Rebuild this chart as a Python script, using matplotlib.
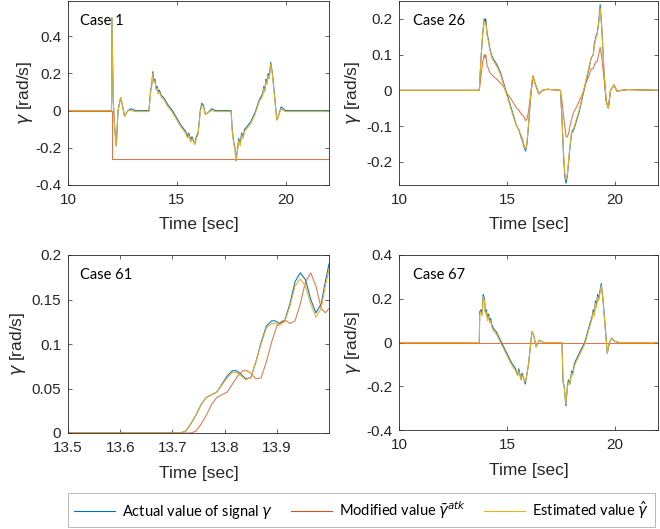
import numpy as np
import matplotlib
matplotlib.use("Agg")
import matplotlib.pyplot as plt

plt.rcParams['font.family'] = ['Liberation Sans', 'DejaVu Sans']
plt.rcParams['mathtext.fontset'] = 'dejavusans'

# ---------------- data ----------------
# Case 1
c1_t = [10, 12.0, 12.02, 12.08, 12.15, 12.22, 12.3, 12.42, 12.5, 12.6, 12.75, 12.9, 13.1,
        13.72, 13.8, 13.85, 13.9, 13.95, 14.0, 14.05, 14.1, 14.15, 14.2, 14.3, 14.4, 14.5,
        14.6, 14.8, 15.0, 15.2, 15.4, 15.5, 15.55, 15.65, 15.7, 15.83, 15.9, 15.98, 16.08,
        16.15, 16.22, 16.32, 16.45, 16.6, 16.8, 17.5, 17.55, 17.62, 17.68, 17.72, 17.78,
        17.85, 17.92, 17.98, 18.05, 18.12, 18.2, 18.4, 18.6, 18.8, 18.95, 19.0, 19.05, 19.1,
        19.15, 19.2, 19.25, 19.32, 19.4, 19.5, 19.6, 19.7, 19.8, 19.9, 20.0, 20.2, 22]
c1_actual = [0, 0, 0.5, 0.05, -0.1, -0.19, 0.0, 0.07, 0.03, -0.03, 0.0, 0.01, 0.0,
             0.0, 0.11, 0.14, 0.21, 0.16, 0.17, 0.12, 0.13, 0.10, 0.11, 0.08, 0.07, 0.05,
             0.03, 0.0, -0.04, -0.08, -0.11, -0.14, -0.12, -0.16, -0.14, -0.18, -0.14, -0.12, 0.0,
             0.04, 0.03, -0.02, -0.01, 0.01, 0.0, 0.0, -0.1, -0.17, -0.2, -0.27, -0.22,
             -0.15, -0.18, -0.12, -0.14, -0.1, -0.09, -0.06, -0.01, 0.06, 0.09, 0.13, 0.11, 0.17,
             0.15, 0.2, 0.18, 0.26, 0.2, 0.08, -0.05, -0.02, 0.02, 0.01, 0.0, 0.0, 0]
c1_est = [0, 0, 0.5, 0.05, -0.1, -0.19, 0.0, 0.07, 0.03, -0.03, 0.0, 0.0, -0.005,
          -0.005, 0.1, 0.13, 0.2, 0.15, 0.16, 0.11, 0.12, 0.09, 0.10, 0.07, 0.06, 0.04,
          0.02, -0.01, -0.05, -0.09, -0.12, -0.15, -0.13, -0.17, -0.15, -0.18, -0.15, -0.13, -0.01,
          0.03, 0.02, -0.02, -0.01, 0.0, -0.005, -0.005, -0.11, -0.18, -0.21, -0.27, -0.23,
          -0.16, -0.19, -0.13, -0.15, -0.11, -0.1, -0.07, -0.02, 0.05, 0.08, 0.12, 0.1, 0.16,
          0.14, 0.19, 0.17, 0.25, 0.19, 0.07, -0.05, -0.02, 0.01, 0.0, -0.005, -0.005, -0.005]
c1_mod_t = [10, 12.0, 12.0, 22]
c1_mod = [0, 0, -0.26, -0.26]

# Case 26
c26_t = [10, 13.72, 13.8, 13.88, 13.95, 13.98, 14.02, 14.08, 14.15, 14.2, 14.28, 14.35, 14.45,
         14.55, 14.7, 14.85, 15.0, 15.15, 15.3, 15.45, 15.55, 15.65, 15.72, 15.8, 15.87, 15.93,
         16.0, 16.1, 16.2, 16.3, 16.48, 16.65, 16.85, 17.48, 17.55, 17.62, 17.68, 17.74, 17.8,
         17.86, 17.92, 18.0, 18.1, 18.2, 18.35, 18.5, 18.65, 18.8, 18.9, 19.0, 19.05, 19.12,
         19.18, 19.25, 19.32, 19.4, 19.5, 19.6, 19.7, 19.8, 19.96, 20.1, 20.3, 20.6, 22]
c26_actual = [0, 0, 0.09, 0.16, 0.2, 0.19, 0.2, 0.16, 0.14, 0.12, 0.1, 0.09, 0.08,
              0.07, 0.05, 0.02, -0.01, -0.04, -0.07, -0.1, -0.11, -0.13, -0.14, -0.16, -0.17, -0.15,
              -0.1, -0.02, 0.04, 0.02, -0.01, 0.0, 0.003, 0.0, -0.08, -0.18, -0.24, -0.26, -0.24,
              -0.2, -0.16, -0.12, -0.11, -0.09, -0.06, -0.02, 0.02, 0.06, 0.09, 0.1, 0.13, 0.15,
              0.16, 0.19, 0.24, 0.17, 0.05, -0.03, -0.05, 0.0, 0.015, -0.003, 0.0, 0.002, 0]
c26_est = [0, 0, 0.09, 0.16, 0.195, 0.185, 0.19, 0.155, 0.135, 0.115, 0.095, 0.085, 0.075,
           0.065, 0.045, 0.015, -0.015, -0.045, -0.075, -0.1, -0.11, -0.125, -0.135, -0.155, -0.165, -0.145,
           -0.095, -0.015, 0.04, 0.02, -0.01, 0.0, 0.003, 0.0, -0.075, -0.17, -0.23, -0.25, -0.235,
           -0.195, -0.155, -0.115, -0.105, -0.085, -0.055, -0.015, 0.025, 0.065, 0.09, 0.1, 0.125, 0.145,
           0.155, 0.185, 0.23, 0.17, 0.05, -0.03, -0.05, 0.0, 0.015, -0.003, 0.0, 0.002, 0]
c26_mod = [0, 0, 0.04, 0.08, 0.1, 0.09, 0.1, 0.07, 0.06, 0.05, 0.045, 0.04, 0.035,
           0.03, 0.02, 0.01, -0.01, -0.02, -0.035, -0.05, -0.055, -0.065, -0.07, -0.075, -0.085, -0.08,
           -0.06, -0.01, 0.04, 0.02, -0.01, 0.0, 0.003, 0.0, -0.03, -0.07, -0.1, -0.13, -0.13,
           -0.12, -0.1, -0.08, -0.06, -0.05, -0.03, -0.01, 0.02, 0.04, 0.06, 0.06, 0.07, 0.08,
           0.08, 0.1, 0.12, 0.09, 0.03, -0.03, -0.05, 0.0, 0.015, -0.003, 0.0, 0.002, 0]

# Case 61
c61_t = [13.5, 13.715, 13.725, 13.735, 13.745, 13.755, 13.765, 13.775, 13.785, 13.795, 13.805,
         13.815, 13.822, 13.83, 13.84, 13.85, 13.86, 13.87, 13.88, 13.89, 13.897, 13.905,
         13.915, 13.925, 13.935, 13.945, 13.955, 13.965, 13.975, 13.985, 13.993, 14.0]
c61_actual = [0, 0, 0.002, 0.01, 0.02, 0.032, 0.04, 0.043, 0.046, 0.055, 0.064,
              0.07, 0.07, 0.067, 0.061, 0.062, 0.08, 0.102, 0.12, 0.126, 0.126, 0.123,
              0.126, 0.145, 0.17, 0.18, 0.172, 0.15, 0.135, 0.145, 0.17, 0.19]
c61_est = [0, 0, 0.002, 0.01, 0.02, 0.032, 0.04, 0.043, 0.046, 0.054, 0.062,
           0.068, 0.068, 0.065, 0.06, 0.062, 0.08, 0.1, 0.118, 0.123, 0.123, 0.121,
           0.125, 0.142, 0.165, 0.173, 0.165, 0.145, 0.13, 0.14, 0.165, 0.183]
c61_mod_t = [13.5, 13.735, 13.745, 13.755, 13.765, 13.775, 13.785, 13.795, 13.805, 13.815,
             13.825, 13.835, 13.843, 13.85, 13.86, 13.87, 13.88, 13.89, 13.9, 13.91, 13.918,
             13.925, 13.935, 13.945, 13.955, 13.965, 13.975, 13.985, 13.993, 14.0]
c61_mod = [0, 0, 0.002, 0.01, 0.02, 0.032, 0.04, 0.043, 0.046, 0.055, 0.064,
           0.07, 0.07, 0.067, 0.061, 0.062, 0.08, 0.102, 0.12, 0.126, 0.126, 0.123,
           0.126, 0.145, 0.17, 0.18, 0.165, 0.14, 0.135, 0.14]

# Case 67
c67_t = [10, 13.72, 13.74, 13.8, 13.85, 13.9, 13.96, 14.0, 14.05, 14.1, 14.15, 14.2, 14.25,
         14.3, 14.4, 14.5, 14.6, 14.8, 15.0, 15.2, 15.4, 15.5, 15.55, 15.65, 15.7, 15.85,
         15.92, 16.0, 16.16, 16.25, 16.35, 16.5, 16.7, 16.9, 17.55, 17.6, 17.65, 17.73, 17.8,
         17.85, 17.92, 18.0, 18.05, 18.12, 18.2, 18.4, 18.6, 18.8, 18.95, 19.0, 19.05, 19.1,
         19.15, 19.2, 19.25, 19.37, 19.45, 19.55, 19.65, 19.75, 19.85, 20.0, 20.2, 20.5, 22]
c67_actual = [0, 0, 0.14, 0.15, 0.13, 0.22, 0.2, 0.14, 0.15, 0.11, 0.13, 0.1, 0.11,
              0.08, 0.06, 0.05, 0.03, -0.01, -0.05, -0.09, -0.12, -0.15, -0.12, -0.17, -0.14, -0.19,
              -0.15, -0.1, 0.05, 0.03, -0.02, 0.01, 0.0, 0.0, 0.0, -0.18, -0.2, -0.29, -0.2,
              -0.17, -0.19, -0.13, -0.14, -0.1, -0.08, -0.04, 0.0, 0.07, 0.12, 0.15, 0.13, 0.19,
              0.17, 0.22, 0.2, 0.27, 0.2, 0.08, -0.05, 0.0, 0.02, 0.005, 0.0, 0.0, 0]
c67_est = [0, 0, 0.13, 0.14, 0.12, 0.21, 0.19, 0.13, 0.14, 0.1, 0.12, 0.09, 0.1,
           0.07, 0.05, 0.04, 0.02, -0.02, -0.06, -0.1, -0.13, -0.15, -0.13, -0.17, -0.15, -0.18,
           -0.15, -0.1, 0.05, 0.03, -0.02, 0.01, 0.0, 0.0, 0.0, -0.17, -0.2, -0.28, -0.21,
           -0.18, -0.19, -0.14, -0.15, -0.11, -0.09, -0.05, -0.01, 0.06, 0.11, 0.14, 0.12, 0.18,
           0.16, 0.21, 0.19, 0.26, 0.19, 0.07, -0.05, 0.0, 0.02, 0.005, 0.0, 0.0, 0]
c67_mod_t = [10, 22]
c67_mod = [0, 0]

cases = [
    dict(name='Case 1', t=c1_t, actual=c1_actual, est=c1_est, mod_t=c1_mod_t, mod=c1_mod,
         xlim=(10, 22), ylim=(-0.4, 0.59), xticks=[10, 15, 20], yticks=[-0.4, -0.2, 0, 0.2, 0.4],
         yticklabels=['-0.4', '-0.2', '0', '0.2', '0.4']),
    dict(name='Case 26', t=c26_t, actual=c26_actual, est=c26_est, mod_t=c26_t, mod=c26_mod,
         xlim=(10, 22), ylim=(-0.265, 0.25), xticks=[10, 15, 20], yticks=[-0.2, -0.1, 0, 0.1, 0.2],
         yticklabels=['-0.2', '-0.1', '0', '0.1', '0.2']),
    dict(name='Case 61', t=c61_t, actual=c61_actual, est=c61_est, mod_t=c61_mod_t, mod=c61_mod,
         xlim=(13.5, 14.0), ylim=(0, 0.2), xticks=[13.5, 13.6, 13.7, 13.8, 13.9],
         yticks=[0, 0.05, 0.1, 0.15, 0.2], yticklabels=['0', '0.05', '0.1', '0.15', '0.2']),
    dict(name='Case 67', t=c67_t, actual=c67_actual, est=c67_est, mod_t=c67_mod_t, mod=c67_mod,
         xlim=(10, 22), ylim=(-0.4, 0.4), xticks=[10, 15, 20], yticks=[-0.4, -0.2, 0, 0.2, 0.4],
         yticklabels=['-0.4', '-0.2', '0', '0.2', '0.4']),
]

# ---------------- plotting ----------------
blue = '#0072BD'
red = '#D95319'
yellow = '#EDB120'
dark = '#262626'

fig = plt.figure(figsize=(6.6, 5.29), dpi=100)
W, H = 660.0, 529.0
# axes boxes in pixels (left, top, right, bottom) and ylabel offset
boxes = [(68, 1, 329, 185), (399, 1, 658, 185), (68, 255, 329, 433), (399, 255, 658, 430)]
ylab_off = [-43, -46, -50, -46]
case_x = [12, 14, 12, 14]

for c, (x0, y0, x1, y1), yo, cx in zip(cases, boxes, ylab_off, case_x):
    w, h = x1 - x0, y1 - y0
    ax = fig.add_axes([x0 / W, 1 - y1 / H, w / W, h / H])
    ax.plot(c['t'], c['actual'], color=blue, lw=0.75)
    ax.plot(c['mod_t'], c['mod'], color=red, lw=0.75, alpha=0.8)
    ax.plot(c['t'], c['est'], color=yellow, lw=0.75)
    ax.set_xlim(*c['xlim'])
    ax.set_ylim(*c['ylim'])
    ax.set_xticks(c['xticks'])
    ax.set_xticklabels([f'{v:g}' for v in c['xticks']])
    ax.set_yticks(c['yticks'])
    ax.set_yticklabels(c['yticklabels'])
    ax.tick_params(direction='in', top=True, right=True, length=3, width=0.5,
                   labelsize=11, colors=dark)
    ax.tick_params(axis='x', pad=6)
    ax.tick_params(axis='y', pad=5)
    for s in ax.spines.values():
        s.set_linewidth(0.6)
        s.set_color(dark)
    ax.set_xlabel('Time [sec]', fontsize=12.5, color=dark, va='center')
    ax.xaxis.set_label_coords(0.5, -40.0 / h)
    ax.set_ylabel(r'$\gamma$ [rad/s]', fontsize=12.5, color=dark, va='center')
    ax.yaxis.set_label_coords(yo / w, 0.5)
    ax.text(cx / w, 1 - 20.0 / h, c['name'], transform=ax.transAxes, ha='left', va='center',
            fontsize=10.5, family=['Lato', 'DejaVu Sans'], color='black')

h1, = plt.plot([], [], color=blue, lw=0.8)
h2, = plt.plot([], [], color=red, lw=0.8)
h3, = plt.plot([], [], color=yellow, lw=0.8)
leg = fig.legend([h1, h2, h3],
                 [r'Actual value of signal $\gamma$', r'Modified value $\bar{\gamma}^{atk}$',
                  r'Estimated value $\hat{\gamma}$'],
                 loc='center', bbox_to_anchor=(361.5 / W, 1 - 510 / H), ncol=3,
                 frameon=True, fancybox=False, edgecolor='#999999',
                 prop={'family': ['Lato', 'DejaVu Sans'], 'size': 10.5},
                 handlelength=2.8, columnspacing=1.2, handletextpad=0.5, borderpad=0.45,
                 borderaxespad=0)
leg.get_frame().set_linewidth(0.6)

fig.savefig('out.png', dpi=100)
